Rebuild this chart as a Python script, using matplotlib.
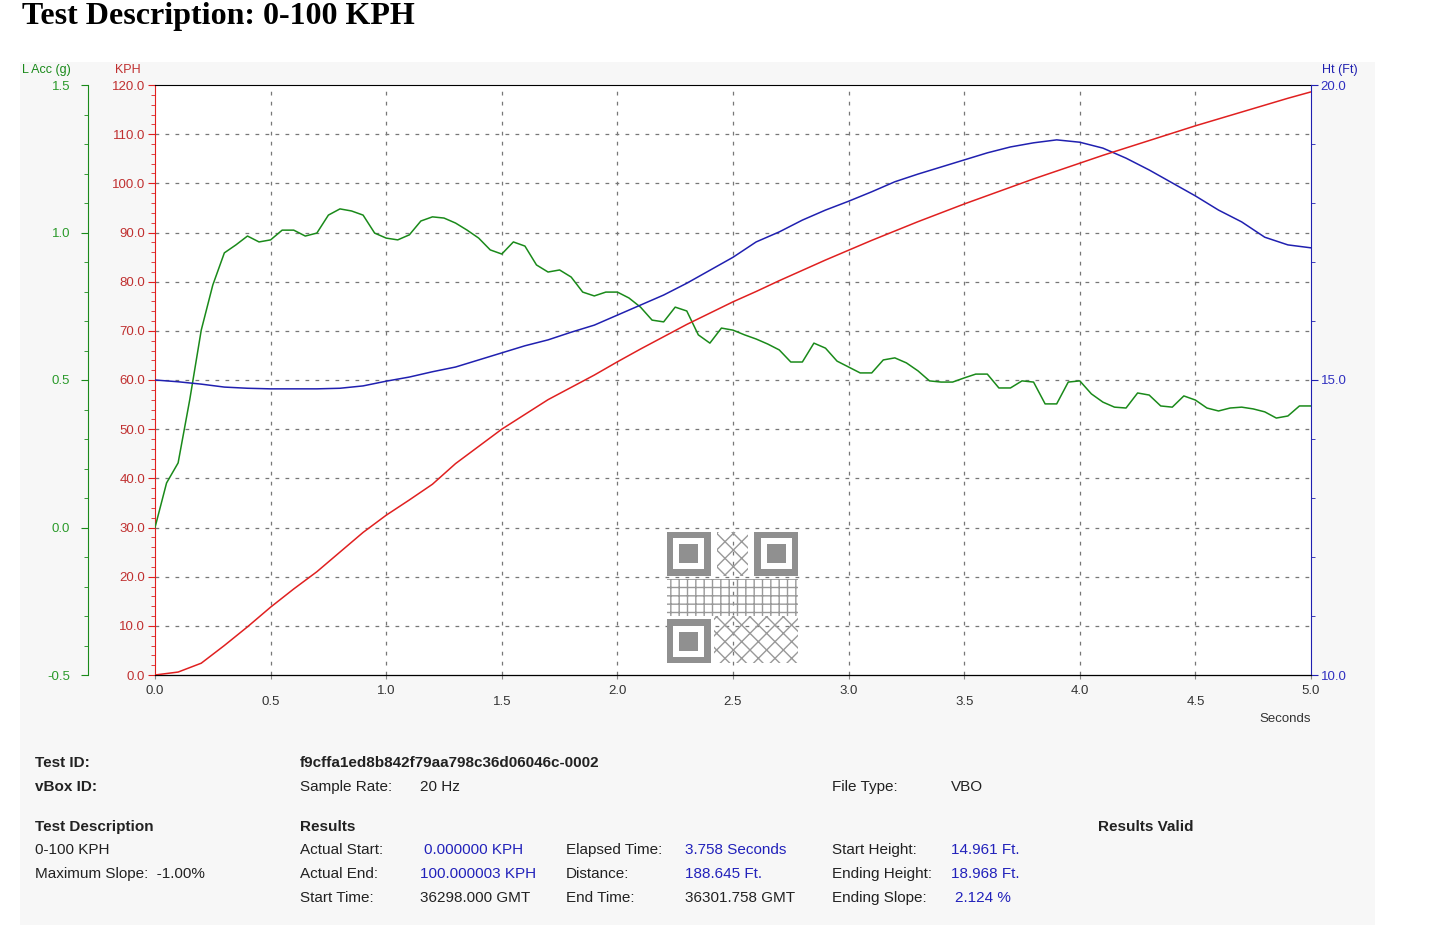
import numpy as np
import matplotlib.pyplot as plt
from matplotlib.patches import Rectangle

plt.rcParams['font.family'] = ['Liberation Sans', 'DejaVu Sans']

# speed (KPH) every 0.1 s
speed = [0, 0.6, 2.4, 6.0, 9.8, 13.8, 17.5, 21.0, 25.0, 29.0, 32.5, 35.6, 38.8, 43.0, 46.5, 50.0,
         53.0, 56.0, 58.5, 61.0, 63.7, 66.3, 68.8, 71.3, 73.6, 75.9, 78.0, 80.2, 82.3, 84.4, 86.4,
         88.4, 90.3, 92.2, 94.0, 95.8, 97.5, 99.2, 100.9, 102.5, 104.1, 105.7, 107.2, 108.7, 110.2,
         111.7, 113.1, 114.5, 115.9, 117.3, 118.6]
# height (ft) every 0.1 s
height = [15.00, 14.97, 14.93, 14.88, 14.86, 14.85, 14.85, 14.85, 14.86, 14.90, 14.98, 15.05, 15.14,
          15.22, 15.34, 15.46, 15.58, 15.68, 15.81, 15.93, 16.10, 16.27, 16.44, 16.64, 16.86, 17.08,
          17.34, 17.51, 17.71, 17.88, 18.03, 18.19, 18.36, 18.49, 18.61, 18.73, 18.85, 18.95, 19.02,
          19.07, 19.03, 18.93, 18.76, 18.56, 18.34, 18.12, 17.88, 17.68, 17.42, 17.29, 17.24]
# longitudinal acceleration (g) every 0.05 s
acc = [0.00, 0.151, 0.219, 0.432, 0.669, 0.822, 0.931, 0.958, 0.988, 0.968, 0.975, 1.008, 1.008,
       0.988, 0.998, 1.059, 1.080, 1.073, 1.059, 0.998, 0.981, 0.975, 0.992, 1.039, 1.053, 1.049,
       1.032, 1.008, 0.981, 0.941, 0.927, 0.968, 0.954, 0.890, 0.866, 0.873, 0.849, 0.798, 0.785,
       0.798, 0.798, 0.778, 0.747, 0.703, 0.697, 0.747, 0.734, 0.653, 0.625, 0.676, 0.669, 0.653,
       0.639, 0.622, 0.602, 0.561, 0.561, 0.625, 0.608, 0.564, 0.544, 0.524, 0.524, 0.568, 0.575,
       0.558, 0.531, 0.497, 0.493, 0.493, 0.507, 0.520, 0.520, 0.473, 0.473, 0.497, 0.493, 0.419,
       0.419, 0.493, 0.497, 0.453, 0.425, 0.408, 0.405, 0.456, 0.449, 0.412, 0.408, 0.446, 0.432,
       0.405, 0.395, 0.405, 0.408, 0.402, 0.392, 0.371, 0.378, 0.412, 0.412]

t_speed = np.linspace(0, 5, len(speed))
t_height = np.linspace(0, 5, len(height))
t_acc = np.linspace(0, 5, len(acc))

W, H = 1431, 925
fig = plt.figure(figsize=(W / 100, H / 100), dpi=100)
fig.patches.append(Rectangle((20 / W, 0), 1355 / W, 1 - 62 / H, transform=fig.transFigure,
                             facecolor='#f7f7f7', edgecolor='none', zorder=-10))

RED, GREEN, BLUE = '#e02020', '#1a8a1a', '#2020b0'
ax = fig.add_axes([155 / W, 1 - 675 / H, 1156 / W, 590 / H])
ax.set_facecolor('white')
ax.set_xlim(0, 5)
ax.set_ylim(0, 120)
ax.set_yticks(np.arange(0, 121, 10))
ax.set_yticks(np.arange(0, 121, 2), minor=True)
ax.set_yticklabels(['%.1f' % v for v in np.arange(0, 121, 10)], color='#c03030', fontsize=9.5)
ax.tick_params(axis='y', colors=RED, labelcolor='#c03030', length=5, pad=2)
ax.tick_params(axis='y', which='minor', colors=RED, length=3)
ax.spines['left'].set_color(RED)
ax.spines['top'].set_color('black')
ax.spines['bottom'].set_color('#888888')
ax.spines['right'].set_visible(False)
ax.set_xticks(np.arange(0, 5.01, 0.5))
ax.set_xticklabels([])
ax.tick_params(axis='x', length=3, colors='#888888')
for x in np.arange(0.5, 5, 0.5):
    ax.axvline(x, color='#777777', ls=(0, (3, 5)), lw=0.9, zorder=0)
for y in np.arange(10, 120, 10):
    ax.axhline(y, color='#777777', ls=(0, (3, 5)), lw=0.9, zorder=0)
for x in np.arange(0, 5.01, 0.5):
    low = abs(x * 2 % 2 - 1) < 1e-6
    ax.text(x, -3.2 if not low else -5.5, '%.1f' % x, ha='center', va='center', fontsize=9.5,
            color='#333333')
ax.text(1.0, -0.08, 'Seconds', transform=ax.transAxes, ha='right', fontsize=9.5, color='#333333')

# green acceleration axis
axg = ax.twinx()
axg.set_ylim(-0.5, 1.5)
axg.spines['left'].set_visible(True)
axg.spines['left'].set_position(('outward', 48))
axg.spines['left'].set_color(GREEN)
axg.spines['right'].set_visible(False)
axg.spines['top'].set_visible(False)
axg.yaxis.set_ticks_position('left')
axg.yaxis.set_label_position('left')
axg.set_yticks([-0.5, 0, 0.5, 1.0, 1.5])
axg.set_yticks(np.arange(-0.5, 1.51, 0.1), minor=True)
axg.set_yticklabels(['-0.5', '0.0', '0.5', '1.0', '1.5'], fontsize=9.5)
axg.tick_params(axis='y', which='both', colors=GREEN, labelcolor='#2a9a2a', length=5, pad=8)
axg.tick_params(axis='y', which='minor', length=3)

# blue height axis
axb = ax.twinx()
axb.set_ylim(10, 20)
axb.spines['right'].set_color(BLUE)
axb.spines['left'].set_visible(False)
axb.spines['top'].set_visible(False)
axb.set_yticks([10, 15, 20])
axb.set_yticks(np.arange(10, 20.1, 1), minor=True)
axb.set_yticklabels(['10.0', '15.0', '20.0'], fontsize=9.5)
axb.tick_params(axis='y', which='both', colors=BLUE, labelcolor='#3030c0', length=5, pad=2)
axb.tick_params(axis='y', which='minor', length=3)

axb.plot(t_height, height, color=BLUE, lw=1.1)
axg.plot(t_acc, acc, color=GREEN, lw=1.1)
axs = ax.twinx()
axs.set_ylim(0, 120)
axs.axis('off')
axs.plot(t_speed, speed, color=RED, lw=1.1)

# QR-like block
qr = fig.add_axes([667 / W, 1 - 663 / H, 131 / W, 131 / H])
qr.set_xlim(0, 21)
qr.set_ylim(0, 21)
qr.axis('off')
qr.add_patch(Rectangle((7.5, 0), 13.5, 7.5, facecolor='none', hatch='xx', edgecolor='#999999', lw=0))
qr.add_patch(Rectangle((0, 7.5), 21, 6, facecolor='none', hatch='++', edgecolor='#999999', lw=0))
qr.add_patch(Rectangle((8, 14), 5, 7, facecolor='none', hatch='xx', edgecolor='#999999', lw=0))
for (fx, fy) in [(0, 14), (14, 14), (0, 0)]:
    qr.add_patch(Rectangle((fx, fy), 7, 7, facecolor='#909090', edgecolor='none'))
    qr.add_patch(Rectangle((fx + 1, fy + 1), 5, 5, facecolor='white', edgecolor='none'))
    qr.add_patch(Rectangle((fx + 2, fy + 2), 3, 3, facecolor='#909090', edgecolor='none'))


def ft(x, y, s, **kw):
    kw.setdefault('fontsize', 11)
    kw.setdefault('color', '#222222')
    kw.setdefault('va', 'center')
    fig.text(x / W, 1 - y / H, s, **kw)


ft(22, 24, 'Test Description: 0-100 KPH', fontsize=23, fontweight='bold',
   family='Liberation Serif', color='black', va='baseline')
ft(22, 70, 'L Acc (g)', fontsize=9, color=GREEN)
ft(115, 70, 'KPH', fontsize=9, color='#c03030')
ft(1322, 70, 'Ht (Ft)', fontsize=9, color=BLUE)

VAL = '#2222bb'
ft(35, 763, 'Test ID:', fontweight='bold')
ft(35, 787, 'vBox ID:', fontweight='bold')
ft(300, 763, 'f9cffa1ed8b842f79aa798c36d06046c-0002', fontweight='bold')
ft(300, 787, 'Sample Rate:')
ft(420, 787, '20 Hz')
ft(832, 787, 'File Type:')
ft(951, 787, 'VBO')
ft(35, 827, 'Test Description', fontweight='bold')
ft(35, 850, '0-100 KPH')
ft(35, 874, 'Maximum Slope:  -1.00%')
ft(300, 827, 'Results', fontweight='bold')
ft(1098, 827, 'Results Valid', fontweight='bold')
ft(300, 850, 'Actual Start:')
ft(424, 850, '0.000000 KPH', color=VAL)
ft(300, 874, 'Actual End:')
ft(420, 874, '100.000003 KPH', color=VAL)
ft(300, 898, 'Start Time:')
ft(420, 898, '36298.000 GMT')
ft(566, 850, 'Elapsed Time:')
ft(685, 850, '3.758 Seconds', color=VAL)
ft(566, 874, 'Distance:')
ft(685, 874, '188.645 Ft.', color=VAL)
ft(566, 898, 'End Time:')
ft(685, 898, '36301.758 GMT')
ft(832, 850, 'Start Height:')
ft(951, 850, '14.961 Ft.', color=VAL)
ft(832, 874, 'Ending Height:')
ft(951, 874, '18.968 Ft.', color=VAL)
ft(832, 898, 'Ending Slope:')
ft(955, 898, '2.124 %', color=VAL)

fig.savefig('out.png', dpi=100)
